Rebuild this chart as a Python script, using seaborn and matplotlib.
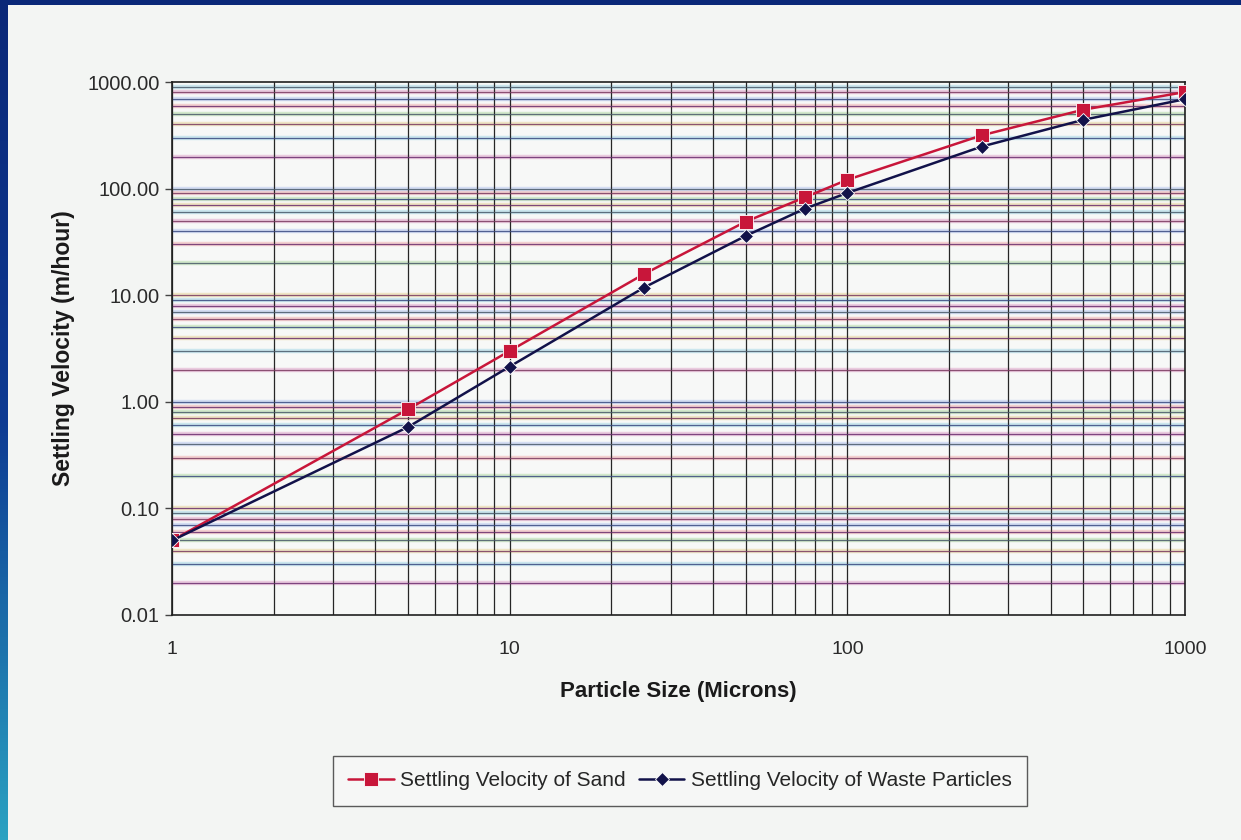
import numpy as np
import pandas as pd
import matplotlib
matplotlib.use("Agg")
import matplotlib.pyplot as plt
import matplotlib.ticker as mticker
import seaborn as sns

# data
particle_size = [1, 5, 10, 25, 50, 75, 100, 250, 500, 1000]
sand_velocity = [0.05, 0.85, 3.0, 15.8, 49, 83, 121, 316, 550, 805]
waste_velocity = [0.05, 0.58, 2.14, 11.8, 36, 65, 91, 248, 442, 690]
series_names = ["Settling Velocity of Sand", "Settling Velocity of Waste Particles"]
x_ticks = [1, 10, 100, 1000]
y_ticks = [0.01, 0.1, 1, 10, 100, 1000]

df = pd.DataFrame({
    "size": particle_size * 2,
    "velocity": sand_velocity + waste_velocity,
    "series": [series_names[0]] * len(particle_size) + [series_names[1]] * len(particle_size),
})

sns.set_style("white")
plt.rcParams["font.family"] = ["Liberation Sans", "DejaVu Sans"]

fig = plt.figure(figsize=(12.41, 8.40), dpi=100)
fig.patch.set_facecolor("#0a2878")

# off-white page with blue frame on left and top
bg = fig.add_axes([8 / 1241, 0, 1 - 8 / 1241, 1 - 5 / 840])
bg.set_facecolor("#f3f5f3")
bg.set_xticks([])
bg.set_yticks([])
for s in bg.spines.values():
    s.set_visible(False)

strip = fig.add_axes([0, 0, 8 / 1241, 1])
grad = np.linspace(0, 1, 256).reshape(-1, 1)
cmap = matplotlib.colors.LinearSegmentedColormap.from_list("strip", ["#0a2878", "#0d3a92", "#2aa2c2"])
strip.imshow(grad, aspect="auto", cmap=cmap)
strip.set_axis_off()

ax = fig.add_axes([172 / 1241, 225 / 840, 1013 / 1241, 533 / 840])
ax.set_facecolor("#f7f8f7")
ax.set_xscale("log")
ax.set_yscale("log")
ax.set_xlim(1, 1000)
ax.set_ylim(0.01, 1000)

# vertical grid: black, majors and minors
ax.xaxis.set_minor_locator(mticker.LogLocator(base=10, subs=np.arange(2, 10)))
ax.grid(False)
ax.xaxis.grid(True, which="both", color="#262626", linewidth=0.9)

# horizontal grid: coloured lines like the scanned original
ax.yaxis.set_minor_locator(mticker.LogLocator(base=10, subs=np.arange(2, 10)))
haze = ["#e0a6cc", "#a8d8e8", "#e8d49a", "#b4dca8", "#f0b0b0", "#b8c8f0"]
core = ["#6a2e6e", "#3a4a80", "#7a3a60", "#4a5a6a"]
ylocs = sorted(set(list(ax.yaxis.get_majorticklocs()) + list(ax.yaxis.get_minorticklocs())))
k = 0
for v in ylocs:
    if 0.01 < v < 1000:
        ax.axhline(v, color=haze[k % len(haze)], linewidth=3.2, alpha=0.55, zorder=0.5)
        ax.axhline(v, color=core[k % len(core)], linewidth=0.9, alpha=0.85, zorder=0.6)
        k += 1

palette = {series_names[0]: "#c8163a", series_names[1]: "#12124a"}
markers = {series_names[0]: "s", series_names[1]: "D"}
sns.lineplot(data=df, x="size", y="velocity", hue="series", style="series",
             palette=palette, markers=markers, dashes=False, linewidth=1.8,
             markersize=10, markeredgewidth=0.6, ax=ax, zorder=3)
for ln in ax.lines:
    if ln.get_marker() == "D":
        ln.set_markersize(7.5)
    elif ln.get_marker() == "s":
        ln.set_markersize(10.5)

ax.set_xticks(x_ticks)
ax.set_xticklabels([str(t) for t in x_ticks])
ax.set_yticks(y_ticks)
ax.yaxis.set_major_formatter(mticker.FuncFormatter(lambda v, p: f"{v:.2f}"))
ax.yaxis.set_minor_formatter(mticker.NullFormatter())
ax.xaxis.set_minor_formatter(mticker.NullFormatter())
ax.tick_params(axis="x", which="both", length=0, pad=19, labelsize=14, labelcolor="#2a2a2a")
ax.tick_params(axis="y", which="major", length=5, width=1, color="#444444", pad=4,
               labelsize=14.5, labelcolor="#2a2a2a", left=True)
ax.tick_params(axis="y", which="minor", length=0)

for s in ax.spines.values():
    s.set_color("#202020")
    s.set_linewidth(1.2)

ax.set_xlabel("Particle Size (Microns)", fontsize=16, fontweight="bold", color="#1a1a1a", labelpad=16)
ax.set_ylabel("Settling Velocity (m/hour)", fontsize=16.5, fontweight="bold", color="#1a1a1a", labelpad=9)

handles, labels = ax.get_legend_handles_labels()
ax.legend_.remove()
leg = fig.legend(handles, labels, loc="center", bbox_to_anchor=(680 / 1241, 1 - 781 / 840),
                 ncol=2, frameon=True, fancybox=False, fontsize=15, handlelength=2.2,
                 columnspacing=0.6, handletextpad=0.3, borderpad=0.75)
leg.get_frame().set_edgecolor("#333333")
leg.get_frame().set_linewidth(1.0)
leg.get_frame().set_facecolor("#f7f8f7")

fig.savefig("out.png", dpi=100, facecolor=fig.get_facecolor())
